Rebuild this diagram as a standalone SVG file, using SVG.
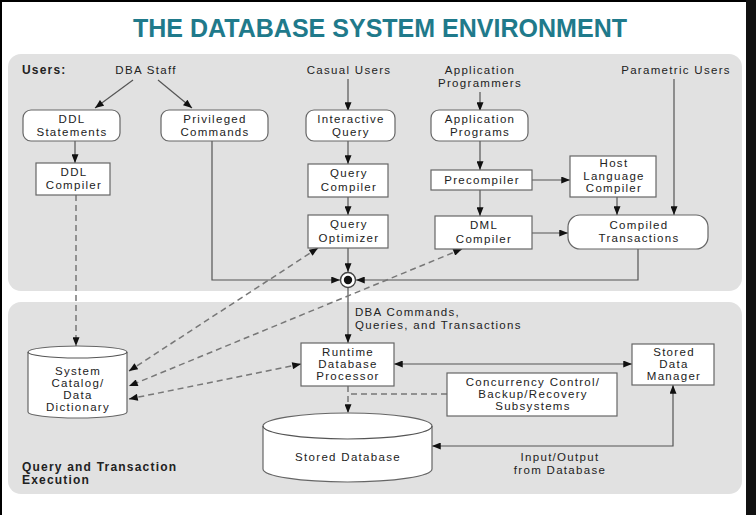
<svg xmlns="http://www.w3.org/2000/svg" width="756" height="515" viewBox="0 0 756 515">
<style>
text{font-family:"Liberation Sans",Arial,sans-serif;font-size:11.5px;letter-spacing:1.3px;fill:#222;}
.c{text-anchor:middle;}
.b{font-weight:bold;font-size:12px;letter-spacing:1.2px;}
.title{font-family:"Liberation Sans",Arial,sans-serif;font-weight:bold;font-size:26px;letter-spacing:0;fill:#1f7a8b;text-anchor:middle;}
.panel{fill:#e1e1e1;}
.box{fill:#fff;stroke:#666;stroke-width:1.2;}
.ln{fill:none;stroke:#555;stroke-width:1.2;}
.dash{fill:none;stroke:#777;stroke-width:1.5;stroke-dasharray:6 4;}
</style>
<defs>
<marker id="ah" viewBox="0 0 10 8" refX="10" refY="4" markerWidth="10" markerHeight="7" markerUnits="userSpaceOnUse" orient="auto-start-reverse">
<path d="M0,0 L10,4 L0,8 Z" fill="#111"/>
</marker>
</defs>
<rect width="756" height="515" fill="#fff"/>
<rect x="0" y="0" width="2" height="515" fill="#000"/>
<rect x="0" y="0" width="756" height="2" fill="#000"/>
<rect x="746" y="0" width="10" height="515" fill="#111"/>
<text class="title" x="380" y="37" textLength="494" lengthAdjust="spacingAndGlyphs">THE DATABASE SYSTEM ENVIRONMENT</text>

<rect class="panel" x="8" y="54" width="734" height="237" rx="13"/>
<rect class="panel" x="8" y="302" width="734" height="192" rx="13"/>

<g id="labels">
<text class="b" x="22" y="74">Users:</text>
<text class="c" x="146" y="74">DBA Staff</text>
<text class="c" x="349" y="74">Casual Users</text>
<text class="c" x="480" y="74">Application</text>
<text class="c" x="480" y="87">Programmers</text>
<text class="c" x="676" y="74">Parametric Users</text>
<text x="355" y="316">DBA Commands,</text>
<text x="355" y="329">Queries, and Transactions</text>
<text class="c" x="560" y="461">Input/Output</text>
<text class="c" x="560" y="474">from Database</text>
<text class="b" x="22" y="471">Query and Transaction</text>
<text class="b" x="22" y="484">Execution</text>
</g>

<g id="connectors">
<path class="ln" d="M133,80 L95,108" marker-end="url(#ah)"/>
<path class="ln" d="M158,80 L192,108" marker-end="url(#ah)"/>
<path class="ln" d="M75,141 V163" marker-end="url(#ah)"/>
<path class="ln" d="M348,79 V111" marker-end="url(#ah)"/>
<path class="ln" d="M348,141 V164" marker-end="url(#ah)"/>
<path class="ln" d="M348,197 V215" marker-end="url(#ah)"/>
<path class="ln" d="M348,248 V272" marker-end="url(#ah)"/>
<path class="ln" d="M480,92 V111" marker-end="url(#ah)"/>
<path class="ln" d="M480,141 V170" marker-end="url(#ah)"/>
<path class="ln" d="M480,190 V216" marker-end="url(#ah)"/>
<path class="ln" d="M532,180 H570" marker-end="url(#ah)"/>
<path class="ln" d="M532,233 H568" marker-end="url(#ah)"/>
<path class="ln" d="M617,197 V215" marker-end="url(#ah)"/>
<path class="ln" d="M674,79 V215" marker-end="url(#ah)"/>
<path class="ln" d="M212,141 V280 H340" marker-end="url(#ah)"/>
<path class="ln" d="M638,249 V280 H356" marker-end="url(#ah)"/>
<path class="ln" d="M348,288 V343" marker-end="url(#ah)"/>
<path class="ln" d="M394,364 H632" marker-start="url(#ah)" marker-end="url(#ah)"/>
<path class="ln" d="M432,446 H673 V385" marker-start="url(#ah)" marker-end="url(#ah)"/>
<path class="dash" d="M76,195 V346" marker-end="url(#ah)"/>
<path class="dash" d="M318,248 L129,371" marker-start="url(#ah)" marker-end="url(#ah)"/>
<path class="dash" d="M462,249 L129,386" marker-start="url(#ah)" marker-end="url(#ah)"/>
<path class="dash" d="M301,364 L129,399" marker-start="url(#ah)" marker-end="url(#ah)"/>
<path class="dash" d="M348,386 V413" marker-end="url(#ah)"/>
<path class="dash" d="M447,394 H348"/>
</g>

<g id="junction">
<circle cx="348" cy="280" r="7.5" fill="#fff" stroke="#444" stroke-width="1.4"/>
<circle cx="348" cy="280" r="4.2" fill="#111"/>
</g>

<g id="ddl-statements">
<rect class="box" x="23" y="110" width="97" height="31" rx="8"/>
<text class="c" x="72" y="123">DDL</text>
<text class="c" x="72" y="136">Statements</text>
</g>
<g id="privileged-commands">
<rect class="box" x="161" y="110" width="107" height="31" rx="8"/>
<text class="c" x="215" y="123">Privileged</text>
<text class="c" x="215" y="136">Commands</text>
</g>
<g id="interactive-query">
<rect class="box" x="306" y="110" width="89" height="31" rx="8"/>
<text class="c" x="351" y="123">Interactive</text>
<text class="c" x="351" y="136">Query</text>
</g>
<g id="application-programs">
<rect class="box" x="431" y="110" width="97" height="31" rx="8"/>
<text class="c" x="480" y="123">Application</text>
<text class="c" x="480" y="136">Programs</text>
</g>
<g id="ddl-compiler">
<rect class="box" x="36" y="163" width="74" height="32"/>
<text class="c" x="74" y="176">DDL</text>
<text class="c" x="74" y="189">Compiler</text>
</g>
<g id="query-compiler">
<rect class="box" x="308" y="164" width="80" height="33"/>
<text class="c" x="349" y="177">Query</text>
<text class="c" x="349" y="191">Compiler</text>
</g>
<g id="query-optimizer">
<rect class="box" x="308" y="215" width="80" height="33"/>
<text class="c" x="349" y="228">Query</text>
<text class="c" x="349" y="242">Optimizer</text>
</g>
<g id="precompiler">
<rect class="box" x="431" y="170" width="101" height="20"/>
<text class="c" x="482" y="184">Precompiler</text>
</g>
<g id="host-language-compiler">
<rect class="box" x="570" y="156" width="86" height="41"/>
<text class="c" x="614" y="167">Host</text>
<text class="c" x="614" y="180">Language</text>
<text class="c" x="614" y="192">Compiler</text>
</g>
<g id="dml-compiler">
<rect class="box" x="435" y="216" width="97" height="33"/>
<text class="c" x="484" y="229">DML</text>
<text class="c" x="484" y="243">Compiler</text>
</g>
<g id="compiled-transactions">
<rect class="box" x="568" y="215" width="140" height="34" rx="12"/>
<text class="c" x="639" y="229">Compiled</text>
<text class="c" x="639" y="242">Transactions</text>
</g>
<g id="runtime-processor">
<rect class="box" x="301" y="343" width="93" height="43"/>
<text class="c" x="348" y="356">Runtime</text>
<text class="c" x="348" y="368">Database</text>
<text class="c" x="348" y="380">Processor</text>
</g>
<g id="stored-data-manager">
<rect class="box" x="632" y="344" width="82" height="41"/>
<text class="c" x="674" y="356">Stored</text>
<text class="c" x="674" y="368">Data</text>
<text class="c" x="674" y="380">Manager</text>
</g>
<g id="concurrency">
<rect class="box" x="447" y="373" width="170" height="43"/>
<text class="c" x="533" y="386">Concurrency Control/</text>
<text class="c" x="533" y="398">Backup/Recovery</text>
<text class="c" x="533" y="410">Subsystems</text>
</g>
<g id="system-catalog">
<path class="box" d="M28,352 A49.5,6 0 0 1 127,352 V412 A49.5,6 0 0 1 28,412 Z"/>
<path class="ln" d="M28,352 A49.5,6 0 0 0 127,352" stroke="#666"/>
<text class="c" x="78" y="375">System</text>
<text class="c" x="78" y="387">Catalog/</text>
<text class="c" x="78" y="399">Data</text>
<text class="c" x="78" y="411">Dictionary</text>
</g>
<g id="stored-database">
<path class="box" d="M263,426 A84.5,13 0 0 1 432,426 V469 A84.5,13 0 0 1 263,469 Z"/>
<path class="ln" d="M263,426 A84.5,13 0 0 0 432,426" stroke="#666"/>
<text class="c" x="348" y="461">Stored Database</text>
</g>
</svg>
